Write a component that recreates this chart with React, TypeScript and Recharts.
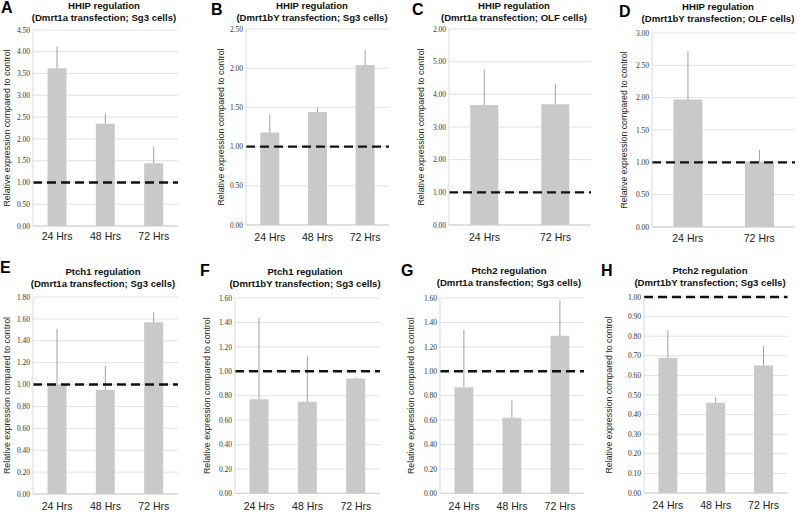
import { BarChart, Bar, XAxis, YAxis, CartesianGrid, ReferenceLine, ErrorBar } from "recharts";

const SANS = "'Liberation Sans', Arial, sans-serif";
const SERIF = "'Liberation Serif', 'Times New Roman', serif";
const Y_W = 45;
const X_H = 24;
const PAD = 6;

const yLabel = "Relative expression compared to control";

const hours3 = ["24 Hrs", "48 Hrs", "72 Hrs"];
const hours2 = ["24 Hrs", "72 Hrs"];

// bar heights and top of the (upper-only) error whiskers
const valuesA = [3.62, 2.35, 1.44];
const errTopA = [4.12, 2.58, 1.82];
const valuesB = [1.18, 1.44, 2.04];
const errTopB = [1.41, 1.5, 2.23];
const valuesC = [3.67, 3.7];
const errTopC = [4.77, 4.32];
const valuesD = [1.97, 1.01];
const errTopD = [2.72, 1.19];
const valuesE = [1.0, 0.95, 1.57];
const errTopE = [1.51, 1.17, 1.66];
const valuesF = [0.77, 0.75, 0.94];
const errTopF = [1.44, 1.12, 0.95];
const valuesG = [0.87, 0.62, 1.29];
const errTopG = [1.34, 0.76, 1.58];
const valuesH = [0.69, 0.46, 0.65];
const errTopH = [0.83, 0.49, 0.75];

const ticksA = [0, 0.5, 1, 1.5, 2, 2.5, 3, 3.5, 4, 4.5];
const ticksB = [0, 0.5, 1, 1.5, 2, 2.5];
const ticksC = [0, 1, 2, 3, 4, 5, 6];
const tickLabelsC = ["0.00", "1.00", "2.00", "3.00", "4.00", "5.00", "2.00"];
const ticksD = [0, 0.5, 1, 1.5, 2, 2.5, 3];
const ticksE = [0, 0.2, 0.4, 0.6, 0.8, 1, 1.2, 1.4, 1.6, 1.8];
const ticksFG = [0, 0.2, 0.4, 0.6, 0.8, 1, 1.2, 1.4, 1.6];
const ticksH = [0, 0.1, 0.2, 0.3, 0.4, 0.5, 0.6, 0.7, 0.8, 0.9, 1];

const letters = ["A", "B", "C", "D", "E", "F", "G", "H"];
const titles = [
  "HHIP regulation",
  "HHIP regulation",
  "HHIP regulation",
  "HHIP regulation",
  "Ptch1 regulation",
  "Ptch1 regulation",
  "Ptch2 regulation",
  "Ptch2 regulation",
];
const subtitles = [
  "(Dmrt1a transfection; Sg3 cells)",
  "(Dmrt1bY transfection; Sg3 cells)",
  "(Dmrt1a transfection; OLF cells)",
  "(Dmrt1bY transfection; OLF cells)",
  "(Dmrt1a transfection; Sg3 cells)",
  "(Dmrt1bY transfection; Sg3 cells)",
  "(Dmrt1a transfection; Sg3 cells)",
  "(Dmrt1bY transfection; Sg3 cells)",
];

type Spec = {
  cats: string[];
  values: number[];
  errTop: number[];
  ticks: number[];
  tickLabels?: string[];
};

const specs: Spec[] = [
  { cats: hours3, values: valuesA, errTop: errTopA, ticks: ticksA },
  { cats: hours3, values: valuesB, errTop: errTopB, ticks: ticksB },
  { cats: hours2, values: valuesC, errTop: errTopC, ticks: ticksC, tickLabels: tickLabelsC },
  { cats: hours2, values: valuesD, errTop: errTopD, ticks: ticksD },
  { cats: hours3, values: valuesE, errTop: errTopE, ticks: ticksE },
  { cats: hours3, values: valuesF, errTop: errTopF, ticks: ticksFG },
  { cats: hours3, values: valuesG, errTop: errTopG, ticks: ticksFG },
  { cats: hours3, values: valuesH, errTop: errTopH, ticks: ticksH },
];

type Layout = {
  left: number;
  right: number;
  top: number;
  bottom: number;
  labelGap: number;
  tickGap: number;
  titleX: number;
  titleY: number;
  letterX: number;
  letterY: number;
};

const layouts: Layout[] = [
  { left: 33, right: 178, top: 29.5, bottom: 225.5, labelGap: 26, tickGap: 7, titleX: 104, titleY: 0, letterX: 1, letterY: 0 },
  { left: 246, right: 389, top: 29, bottom: 225, labelGap: 25, tickGap: 9, titleX: 312, titleY: 0, letterX: 211, letterY: 2 },
  { left: 449, right: 591, top: 29, bottom: 225, labelGap: 28, tickGap: 9, titleX: 514, titleY: 0, letterX: 412, letterY: 2 },
  { left: 651.5, right: 794.5, top: 32.5, bottom: 226.5, labelGap: 28, tickGap: 8, titleX: 718, titleY: 0.5, letterX: 619, letterY: 4 },
  { left: 33, right: 178, top: 296.7, bottom: 493.7, labelGap: 26, tickGap: 9, titleX: 103, titleY: 265.5, letterX: 0, letterY: 260 },
  { left: 235, right: 380, top: 298.3, bottom: 493.7, labelGap: 28, tickGap: 9, titleX: 305, titleY: 265.5, letterX: 200, letterY: 263 },
  { left: 440, right: 584, top: 298.3, bottom: 493.7, labelGap: 29, tickGap: 9, titleX: 509, titleY: 265, letterX: 401, letterY: 263 },
  { left: 644, right: 787.5, top: 296.7, bottom: 492.7, labelGap: 35, tickGap: 9, titleX: 710, titleY: 265, letterX: 601, letterY: 263 },
];

function Panel({ idx }: { idx: number }) {
  const spec = specs[idx];
  const lay = layouts[idx];
  const data = spec.cats.map((hour, i) => ({
    hour,
    value: spec.values[i],
    err: [0, +(spec.errTop[i] - spec.values[i]).toFixed(3)],
  }));
  const width = lay.right - lay.left + Y_W + PAD;
  const height = lay.bottom - lay.top + PAD + X_H;
  const maxY = spec.ticks[spec.ticks.length - 1];

  return (
    <>
      <div
        style={{
          position: "absolute",
          left: lay.letterX,
          top: lay.letterY,
          fontFamily: SANS,
          fontWeight: "bold",
          fontSize: 16,
          lineHeight: "16px",
          color: "#000",
        }}
      >
        {letters[idx]}
      </div>
      <div
        style={{
          position: "absolute",
          left: lay.titleX - 100,
          top: lay.titleY,
          width: 200,
          textAlign: "center",
          fontFamily: SANS,
          fontWeight: "bold",
          fontSize: 9.6,
          lineHeight: "12px",
          color: "#111",
          whiteSpace: "nowrap",
        }}
      >
        <div>{titles[idx]}</div>
        <div>{subtitles[idx]}</div>
      </div>
      <div style={{ position: "absolute", left: lay.left - Y_W, top: lay.top - PAD }}>
        <BarChart
          width={width}
          height={height}
          data={data}
          margin={{ top: PAD, right: PAD, left: 0, bottom: 0 }}
          barCategoryGap="30%"
        >
          <CartesianGrid vertical={false} stroke="#e2e2e2" />
          <XAxis
            dataKey="hour"
            interval={0}
            height={X_H}
            tickLine={false}
            tickSize={0}
            tickMargin={lay.tickGap}
            axisLine={{ stroke: "#cfcfcf" }}
            tick={{ fill: "#222", fontSize: 10.5, fontFamily: SANS }}
          />
          <YAxis
            width={Y_W}
            domain={[0, maxY]}
            ticks={spec.ticks}
            interval={0}
            tickLine={false}
            tickSize={0}
            tickMargin={3}
            axisLine={{ stroke: "#dadada" }}
            tick={{ fill: "#333", fontSize: 7.5, fontFamily: SERIF }}
            tickFormatter={(v: number, i: number) =>
              spec.tickLabels ? spec.tickLabels[i] : v.toFixed(2)
            }
            label={{
              value: yLabel,
              angle: -90,
              position: "insideLeft",
              offset: Y_W - lay.labelGap,
              style: { textAnchor: "middle", fill: "#222", fontSize: 8.8, fontFamily: SANS },
            }}
          />
          <Bar dataKey="value" fill="#c9c9c9" isAnimationActive={false}>
            <ErrorBar
              dataKey="err"
              direction="y"
              width={0}
              stroke="#a0a0a0"
              strokeWidth={1}
              isAnimationActive={false}
            />
          </Bar>
          <ReferenceLine y={1} stroke="#111" strokeWidth={2.4} strokeDasharray="9 5" />
        </BarChart>
      </div>
    </>
  );
}

export default function App() {
  return (
    <div
      style={{
        position: "absolute",
        left: 0,
        top: 0,
        width: 800,
        height: 516,
        background: "#fff",
        overflow: "hidden",
      }}
    >
      {specs.map((_, i) => (
        <Panel key={i} idx={i} />
      ))}
    </div>
  );
}
